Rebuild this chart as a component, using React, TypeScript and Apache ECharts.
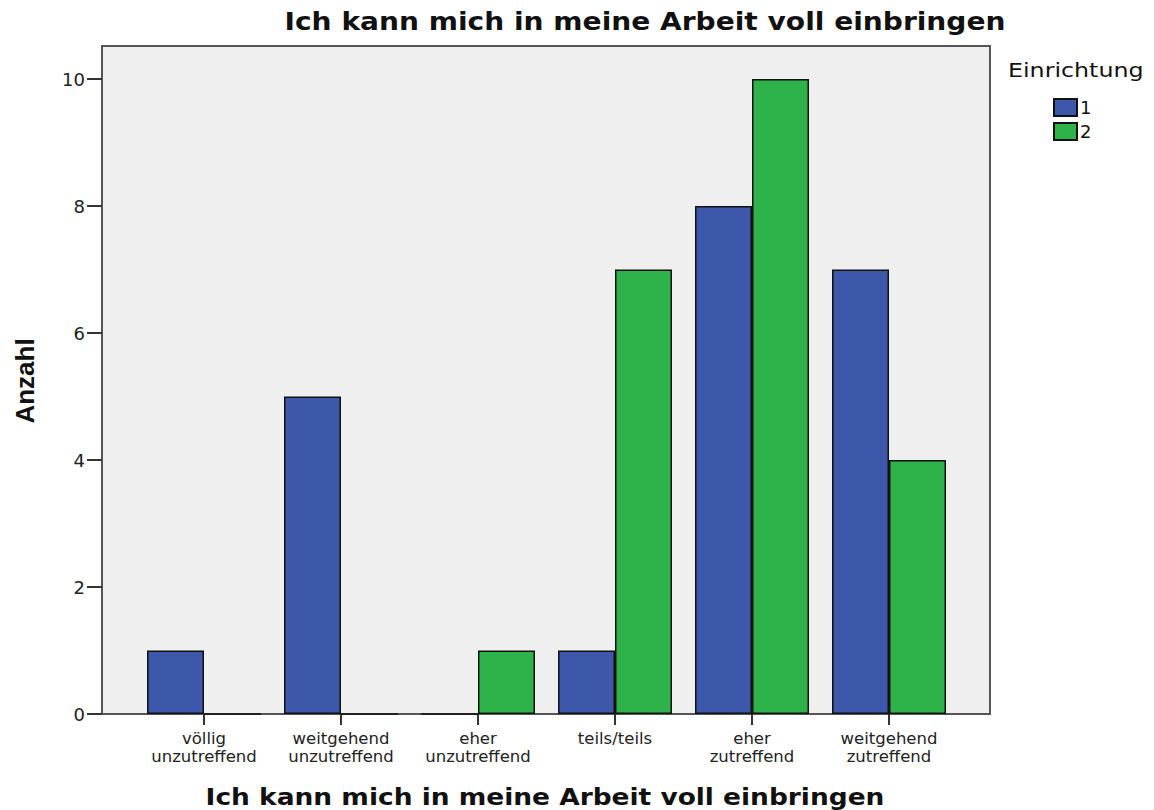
import React, { useEffect, useRef } from "react";
import * as echarts from "echarts";

const categories = [
  "völlig\nunzutreffend",
  "weitgehend\nunzutreffend",
  "eher\nunzutreffend",
  "teils/teils",
  "eher\nzutreffend",
  "weitgehend\nzutreffend",
];
const seriesNames = ["1", "2"];
const values1 = [1, 5, 0, 1, 8, 7];
const values2 = [0, 0, 1, 7, 10, 4];
const yTicks = [0, 2, 4, 6, 8, 10];
const titleText = "Ich kann mich in meine Arbeit voll einbringen";
const legendTitle = "Einrichtung";
const yName = "Anzahl";

export default function App() {
  const ref = useRef<HTMLDivElement>(null);
  useEffect(() => {
    if (!ref.current) return;
    const chart = echarts.init(ref.current, undefined, { renderer: "svg" });
    const yMax = 10.52;
    chart.setOption({
      animation: false,
      backgroundColor: "#ffffff",
      textStyle: { fontFamily: "DejaVu Sans" },
      grid: [
        { left: 135.5, top: 46, width: 822, height: 668, show: false },
        {
          left: 102, top: 46, width: 888, height: 668, show: true,
          backgroundColor: "#efefef", borderColor: "#555555", borderWidth: 2, z: -1,
        },
      ],
      legend: {
        orient: "vertical",
        left: 1048,
        top: 93,
        itemWidth: 23,
        itemHeight: 17,
        itemGap: 5,
        icon: "rect",
        textStyle: { fontFamily: "DejaVu Sans", fontSize: 18, color: "#111", padding: [0, 0, 0, -2] },
        data: seriesNames,
      },
      xAxis: [
        {
          type: "category",
          gridIndex: 0,
          data: categories,
          axisLine: { show: false },
          axisTick: { show: true, alignWithLabel: true, length: 11, lineStyle: { color: "#333", width: 2 } },
          axisLabel: {
            interval: 0,
            margin: 15,
            fontFamily: "DejaVu Sans",
            fontSize: 16.5,
            lineHeight: 18,
            color: "#222",
          },
        },
        { type: "category", gridIndex: 1, data: categories, show: false },
      ],
      yAxis: [
        { type: "value", gridIndex: 0, min: 0, max: yMax, show: false },
        {
          type: "value",
          gridIndex: 1,
          min: 0,
          max: yMax,
          axisLine: { show: false },
          splitLine: { show: false },
          axisTick: { show: true, length: 15, customValues: yTicks, lineStyle: { color: "#333", width: 2 } },
          axisLabel: {
            customValues: yTicks,
            margin: 17,
            fontFamily: "DejaVu Sans",
            fontSize: 18,
            color: "#222",
          },
        },
      ],
      series: [
        {
          name: seriesNames[0],
          type: "bar",
          xAxisIndex: 0,
          yAxisIndex: 0,
          data: values1,
          barWidth: 57,
          barGap: "0%",
          itemStyle: { color: "#3d57aa", borderColor: "#111", borderWidth: 1.5 },
        },
        {
          name: seriesNames[1],
          type: "bar",
          xAxisIndex: 0,
          yAxisIndex: 0,
          data: values2,
          barWidth: 57,
          barGap: "0%",
          itemStyle: { color: "#2db34a", borderColor: "#111", borderWidth: 1.5 },
        },
      ],
      graphic: [
        {
          type: "text",
          x: 645,
          y: 22,
          scaleX: 1.17,
          style: {
            text: titleText,
            fontFamily: "DejaVu Sans",
            fontWeight: "bold",
            fontSize: 24,
            fill: "#111",
            align: "center",
            verticalAlign: "middle",
          },
        },
        {
          type: "text",
          x: 545,
          y: 797,
          scaleX: 1.15,
          style: {
            text: titleText,
            fontFamily: "DejaVu Sans",
            fontWeight: "bold",
            fontSize: 23,
            fill: "#111",
            align: "center",
            verticalAlign: "middle",
          },
        },
        {
          type: "text",
          x: 25,
          y: 381,
          rotation: Math.PI / 2,
          style: {
            text: yName,
            fontFamily: "Liberation Sans Narrow, Liberation Sans",
            fontWeight: "bold",
            fontSize: 26,
            fill: "#111",
            align: "center",
            verticalAlign: "middle",
          },
        },
        {
          type: "text",
          x: 1008,
          y: 70,
          scaleX: 1.25,
          style: {
            text: legendTitle,
            fontFamily: "DejaVu Sans",
            fontSize: 19,
            fill: "#111",
            align: "left",
            verticalAlign: "middle",
          },
        },
      ],
    });
    return () => chart.dispose();
  }, []);
  return (
    <div
      ref={ref}
      style={{ position: "fixed", left: 0, top: 0, width: 1154, height: 810 }}
    />
  );
}
